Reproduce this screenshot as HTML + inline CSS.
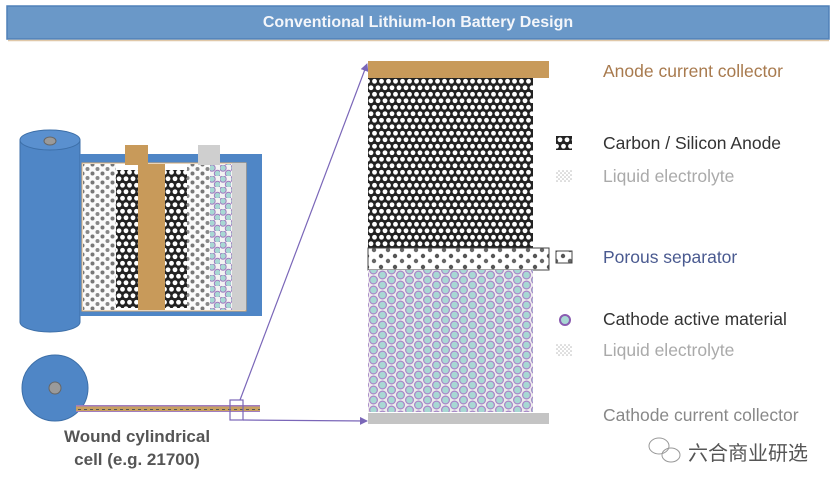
<!DOCTYPE html>
<html><head><meta charset="utf-8"><style>
html,body{margin:0;padding:0;background:#fff;}
svg{display:block;}
text{font-family:"Liberation Sans",sans-serif;}
</style></head><body>
<svg width="840" height="488" viewBox="0 0 840 488" xmlns="http://www.w3.org/2000/svg">
<defs>
<pattern id="carbon" width="7" height="13" patternUnits="userSpaceOnUse">
<rect width="7" height="13" fill="#222"/>
<circle cx="3.5" cy="3.25" r="2.4" fill="#fff"/>
<circle cx="0" cy="9.75" r="2.4" fill="#fff"/>
<circle cx="7" cy="9.75" r="2.4" fill="#fff"/>
</pattern>
<pattern id="elec" width="10" height="9" patternUnits="userSpaceOnUse">
<rect width="10" height="9" fill="#fafafa"/>
<circle cx="2.5" cy="2.5" r="2" fill="#777"/>
<circle cx="7.5" cy="7" r="2" fill="#888"/>
</pattern>
<pattern id="sep" width="14" height="11" patternUnits="userSpaceOnUse">
<rect width="14" height="11" fill="#fff"/>
<circle cx="3" cy="3" r="2.2" fill="#555"/>
<circle cx="10" cy="8" r="2.2" fill="#666"/>
</pattern>
<pattern id="cath" width="18" height="10" patternUnits="userSpaceOnUse">
<rect width="18" height="10" fill="#ececec"/>
<circle cx="4.5" cy="5" r="3.9" fill="#a8d8d4" stroke="#a884c8" stroke-width="1.2"/>
<circle cx="13.5" cy="0" r="3.9" fill="#a8d8d4" stroke="#a884c8" stroke-width="1.2"/>
<circle cx="13.5" cy="10" r="3.9" fill="#a8d8d4" stroke="#a884c8" stroke-width="1.2"/>
</pattern>
<pattern id="cathS" width="11" height="11" patternUnits="userSpaceOnUse">
<rect width="11" height="11" fill="#f3f3f3"/>
<circle cx="3" cy="3" r="3.2" fill="#a8d8d4" stroke="#a07cc0" stroke-width="1"/>
<circle cx="8.5" cy="8.5" r="3.2" fill="#a8d8d4" stroke="#a07cc0" stroke-width="1"/>
</pattern>
<pattern id="liq" width="4" height="4" patternUnits="userSpaceOnUse">
<rect width="4" height="4" fill="#fff"/><circle cx="1" cy="1" r="0.8" fill="#bbb"/><circle cx="3" cy="3" r="0.8" fill="#bbb"/>
</pattern>
<pattern id="strip" width="6" height="6" patternUnits="userSpaceOnUse">
<rect width="6" height="6" fill="#c8a060"/><rect y="3" width="6" height="1.5" fill="#a07cc0"/><rect x="0" y="1" width="3" height="1" fill="#555"/>
</pattern>
<marker id="ar" markerWidth="8" markerHeight="8" refX="7" refY="4" orient="auto" markerUnits="userSpaceOnUse">
<path d="M0,0 L8,4 L0,8 z" fill="#7a66b8"/>
</marker>
</defs>

<rect x="7" y="6" width="822" height="33" fill="#6a98c8" stroke="#4f80b8" stroke-width="1.5"/>
<line x1="8" y1="40.5" x2="829" y2="40.5" stroke="#e0c8a8" stroke-width="1.5"/>
<text x="418" y="27" text-anchor="middle" font-size="16" font-weight="bold" fill="#f4f6fa">Conventional Lithium-Ion Battery Design</text>

<path d="M20,140 L20,322 A30,10 0 0 0 80,322 L80,140 Z" fill="#4f86c6" stroke="#3d6fa8" stroke-width="1"/>
<ellipse cx="50" cy="140" rx="30" ry="10" fill="#5a90cf" stroke="#3d6fa8"/>
<ellipse cx="50" cy="141" rx="6" ry="4" fill="#9a9a9a" stroke="#666"/>
<rect x="80" y="154" width="182" height="162" fill="#4f86c6"/>
<rect x="82" y="163" width="164" height="148" fill="#fff" stroke="#d6a870" stroke-width="1"/>
<rect x="83" y="164" width="33" height="146" fill="url(#elec)"/>
<rect x="116" y="170" width="22" height="138" fill="url(#carbon)"/>
<rect x="125" y="145" width="23" height="20" fill="#c89a5a"/>
<rect x="138" y="164" width="27" height="146" fill="#c89a5a"/>
<rect x="165" y="170" width="22" height="138" fill="url(#carbon)"/>
<rect x="187" y="164" width="23" height="146" fill="url(#elec)"/>
<rect x="210" y="164" width="22" height="146" fill="url(#cathS)"/>
<rect x="232" y="163" width="14" height="147" fill="#cfcfcf"/>
<rect x="198" y="145" width="22" height="20" fill="#cfcfcf"/>

<circle cx="55" cy="388" r="33" fill="#4f86c6" stroke="#3d6fa8"/>
<circle cx="55" cy="388" r="6" fill="#9a9a9a" stroke="#666"/>
<rect x="76" y="405" width="184" height="7" fill="url(#strip)"/>
<rect x="230" y="400" width="13" height="20" fill="none" stroke="#7a66b8" stroke-width="1.2"/>
<line x1="240" y1="400" x2="367" y2="64" stroke="#7a66b8" stroke-width="1.2" marker-end="url(#ar)"/>
<line x1="243" y1="420" x2="367" y2="421" stroke="#7a66b8" stroke-width="1.2" marker-end="url(#ar)"/>
<text x="137" y="442" text-anchor="middle" font-size="17" font-weight="bold" fill="#555">Wound cylindrical</text>
<text x="137" y="465" text-anchor="middle" font-size="17" font-weight="bold" fill="#555">cell (e.g. 21700)</text>

<rect x="368" y="61" width="181" height="17" fill="#c89a5a"/>
<rect x="368" y="78" width="165" height="170" fill="url(#carbon)"/>
<rect x="368" y="248" width="181" height="22" fill="url(#sep)" stroke="#444" stroke-width="1"/>
<rect x="368" y="270" width="165" height="142" fill="url(#cath)"/>
<rect x="368" y="413" width="181" height="11" fill="#c4c4c4"/>

<text x="603" y="77" font-size="17.5" fill="#a87a4e">Anode current collector</text>
<rect x="556" y="136" width="16" height="14" fill="url(#carbon)"/>
<text x="603" y="149" font-size="17.5" fill="#333">Carbon / Silicon Anode</text>
<rect x="556" y="170" width="16" height="12" fill="url(#liq)"/>
<text x="603" y="182" font-size="17.5" fill="#aaa">Liquid electrolyte</text>
<rect x="556" y="251" width="16" height="12" fill="url(#sep)" stroke="#444"/>
<text x="603" y="263" font-size="17.5" fill="#4a5a90">Porous separator</text>
<circle cx="565" cy="320" r="5" fill="#a8d8d4" stroke="#8a5cb0" stroke-width="2"/>
<text x="603" y="325" font-size="17.5" fill="#333">Cathode active material</text>
<rect x="556" y="344" width="16" height="12" fill="url(#liq)"/>
<text x="603" y="356" font-size="17.5" fill="#aaa">Liquid electrolyte</text>
<text x="603" y="421" font-size="17.5" fill="#888">Cathode current collector</text>

<g fill="none" stroke="#999" stroke-width="1">
<ellipse cx="659" cy="446" rx="10" ry="8"/>
<ellipse cx="671" cy="455" rx="9" ry="7"/>
</g>
<text x="688" y="460" font-size="20" fill="#555" font-family="'Liberation Sans','Noto Sans CJK SC',sans-serif">六合商业研选</text>
</svg>
</body></html>
